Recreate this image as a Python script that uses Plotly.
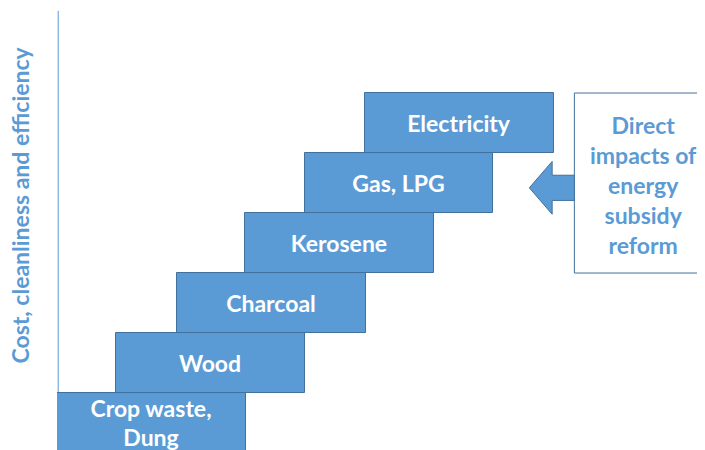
import plotly.graph_objects as go

# Energy ladder steps (abstract units: one step = 1 unit)
fuels = ["Crop waste,<br>Dung", "Wood", "Charcoal", "Kerosene", "Gas, LPG", "Electricity"]
step_start = [0.0, 0.98, 2.0, 3.13, 4.13, 5.13]
step_length = [3.15, 3.15, 3.15, 3.15, 3.13, 3.15]
step_level = [0.5, 1.5, 2.5, 3.5, 4.5, 5.5]

y_title = "Cost, cleanliness and efficiency"
box_text = "Direct<br>impacts of<br>energy<br>subsidy<br>reform"

# callout box and arrow
box_left, box_right, box_bottom, box_top = 8.62, 11.2, 3.0, 6.0
arrow_tip, arrow_head_end, arrow_y = 7.87, 8.25, 4.42
head_half, shaft_half = 0.44, 0.21

BLUE = "#5B9BD5"
EDGE = "#41719C"
FONT = "Lato"

fig = go.Figure()

fig.add_trace(go.Bar(
    y=step_level,
    x=step_length,
    base=step_start,
    orientation="h",
    width=1,
    text=fuels,
    textposition="inside",
    insidetextanchor="middle",
    constraintext="none",
    textfont=dict(family=FONT, size=23, color="white", weight="bold"),
    marker=dict(color=BLUE, line=dict(color=EDGE, width=1)),
    hoverinfo="skip",
    showlegend=False,
))

# vertical axis line
fig.add_shape(type="line", x0=0.02, x1=0.02, y0=1, y1=7.37,
              line=dict(color=BLUE, width=1), layer="below")

# callout box
fig.add_shape(type="rect", x0=box_left, x1=box_right, y0=box_bottom, y1=box_top,
              line=dict(color=EDGE, width=1), fillcolor="white")

# arrow pointing left
arrow_path = (
    f"M {arrow_tip} {arrow_y} "
    f"L {arrow_head_end} {arrow_y + head_half} "
    f"L {arrow_head_end} {arrow_y + shaft_half} "
    f"L {box_left} {arrow_y + shaft_half} "
    f"L {box_left} {arrow_y - shaft_half} "
    f"L {arrow_head_end} {arrow_y - shaft_half} "
    f"L {arrow_head_end} {arrow_y - head_half} Z"
)
fig.add_shape(type="path", path=arrow_path, fillcolor=BLUE,
              line=dict(color=EDGE, width=1))

fig.add_annotation(x=9.78, y=4.47, xref="x", yref="y", text=box_text,
                   showarrow=False, align="center",
                   font=dict(family=FONT, size=23, color=BLUE, weight="bold"))

fig.add_annotation(x=-0.056, y=4.13, xref="paper", yref="y", text=y_title,
                   showarrow=False, textangle=-90, xanchor="center", yanchor="middle",
                   font=dict(family=FONT, size=23, color=BLUE, weight="bold"))

fig.update_layout(
    width=705, height=450,
    margin=dict(l=49, r=0, t=0, b=0),
    paper_bgcolor="white", plot_bgcolor="white",
    xaxis=dict(range=[0, 10.93], visible=False, fixedrange=True),
    yaxis=dict(range=[-0.083, 7.417], visible=False, fixedrange=True),
    bargap=0,
)

fig.write_html("out.html")
